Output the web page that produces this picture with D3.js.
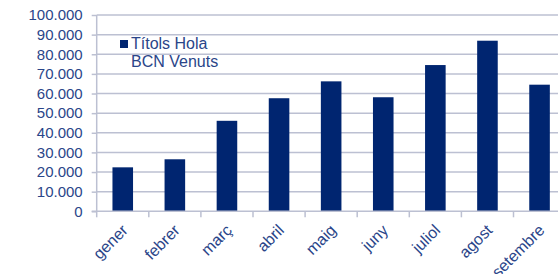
<!DOCTYPE html>
<html><head><meta charset="utf-8">
<script src="https://cdn.jsdelivr.net/npm/d3@7"></script>
<style>
html,body{margin:0;padding:0;background:#fff;}
svg{display:block;font-family:"Liberation Sans",Arial,sans-serif;}
</style></head>
<body><svg id="c" width="558" height="274"></svg>
<script>
const categories = ["gener","febrer","març","abril","maig","juny","juliol","agost","setembre"];
const values = [22400, 26500, 46100, 57600, 66200, 58100, 74500, 86900, 64500];
const yTicks = [0,10000,20000,30000,40000,50000,60000,70000,80000,90000,100000];
const seriesName = ["Títols Hola","BCN Venuts"];

(function(){
const svg = d3.select("#c");
const pL = 96.7, pR = 565.6, pT = 15, pB = 211.3;
const textColor = "#2a4589", barColor = "#002570", gridColor = "#bcc0d2";

const x = d3.scaleBand().domain(categories).range([pL, pR]).paddingInner(0.605).paddingOuter(0.3025);
const y = d3.scaleLinear().domain([0,100000]).range([pB, pT]);
const fmt = v => d3.format(",")(v).replace(/,/g, ".");

// gridlines
svg.append("g").selectAll("line").data(yTicks.filter(d=>d>0)).join("line")
  .attr("x1", pL).attr("x2", 558).attr("y1", d=>y(d)).attr("y2", d=>y(d))
  .attr("stroke", gridColor).attr("stroke-width", 1.5);

// bars
svg.append("g").selectAll("rect").data(values).join("rect")
  .attr("x", (d,i)=>x(categories[i])).attr("width", x.bandwidth())
  .attr("y", d=>y(d)).attr("height", d=>y(0)-y(d))
  .attr("fill", barColor);

// y axis
const ya = svg.append("g").attr("transform", `translate(${pL},0)`)
  .call(d3.axisLeft(y).tickValues(yTicks).tickFormat(fmt).tickSize(5).tickPadding(9));
ya.select(".domain").attr("stroke", gridColor).attr("stroke-width", 1.5).attr("d", `M0,${pT}V${pB}`);
ya.selectAll(".tick line").attr("stroke", gridColor).attr("stroke-width", 1.5);
ya.selectAll(".tick text").attr("fill", textColor).attr("font-size", 15).attr("font-family", "Liberation Sans, Arial, sans-serif");

// x axis
const xa = svg.append("g").attr("transform", `translate(0,${pB})`)
  .call(d3.axisBottom(x).tickSize(0).tickFormat(d=>d));
xa.select(".domain").remove();
xa.append("line").attr("x1", pL-5).attr("x2", 558).attr("y1",0).attr("y2",0).attr("stroke", gridColor).attr("stroke-width",1.5);
const step = x.step();
xa.selectAll(".tickmark").data(categories).join("line").attr("class","tickmark")
  .attr("x1", d=>x(d)-x.paddingOuter()*step).attr("x2", d=>x(d)-x.paddingOuter()*step)
  .attr("y1",0).attr("y2",6).attr("stroke", gridColor).attr("stroke-width",1.5);
xa.selectAll(".tick text").attr("fill", textColor).attr("font-size", 16)
  .attr("font-family", "Liberation Sans, Arial, sans-serif")
  .attr("text-anchor","end").attr("dy", null).attr("y", null)
  .attr("transform","translate(6,20) rotate(-45)");

// legend
const lg = svg.append("g").attr("fill", textColor).attr("font-size", 16);
lg.append("rect").attr("x",120).attr("y",40).attr("width",8).attr("height",8).attr("fill", barColor);
lg.append("text").attr("x",131).attr("y",49).text(seriesName[0]);
lg.append("text").attr("x",131).attr("y",67).text(seriesName[1]);
})();
</script></body></html>
